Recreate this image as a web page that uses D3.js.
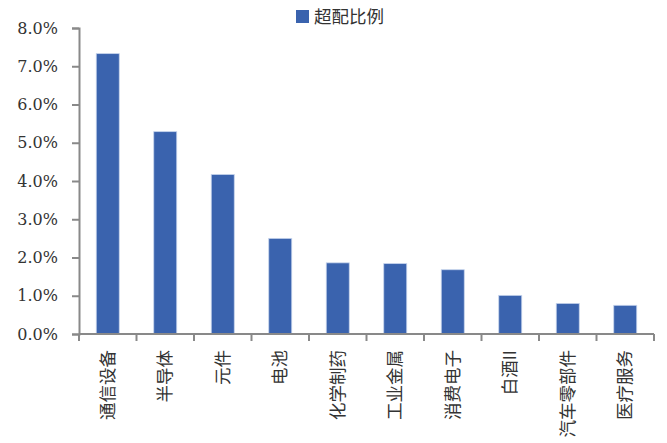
<!DOCTYPE html>
<html>
<head>
<meta charset="utf-8">
<script src="https://cdn.jsdelivr.net/npm/d3@7"></script>
<style>
  body { margin: 0; background: #fff; }
</style>
</head>
<body>
<script>
// data
let categories = ["通信设备", "半导体", "元件", "电池", "化学制药", "工业金属", "消费电子", "白酒II", "汽车零部件", "医疗服务"];
let values = [7.33, 5.29, 4.17, 2.50, 1.86, 1.84, 1.68, 1.01, 0.80, 0.75]; // [%]
let yTicks = [0, 1, 2, 3, 4, 5, 6, 7, 8];
let seriesName = "超配比例";

let width = 667, height = 443;
let margin = { top: 28, right: 13, bottom: 109, left: 79 };

let svg = d3.select("body").append("svg")
    .attr("width", width)
    .attr("height", height);

let xScale = d3.scaleBand()
    .domain(categories)
    .range([margin.left, width - margin.right])
    .paddingInner(0.6)
    .paddingOuter(0.3);

let yScale = d3.scaleLinear()
    .domain([0, 8])
    .range([height - margin.bottom, margin.top]);

// bars
svg.append("g")
    .selectAll("rect")
    .data(values)
    .join("rect")
    .attr("x", (d, i) => xScale(categories[i]))
    .attr("y", d => yScale(d))
    .attr("width", xScale.bandwidth())
    .attr("height", d => yScale(0) - yScale(d))
    .attr("fill", "#3a63ae")
    .attr("stroke", "#c5d3ec")
    .attr("stroke-width", 0.8);

// y axis
let yAxis = d3.axisLeft(yScale)
    .tickValues(yTicks)
    .tickSize(7)
    .tickPadding(14)
    .tickFormat(d => d.toFixed(1) + "%");

let gy = svg.append("g")
    .attr("transform", `translate(${margin.left},0)`)
    .call(yAxis);
gy.select(".domain").attr("stroke", "#898989").attr("stroke-width", 2);
gy.selectAll(".tick line").attr("stroke", "#898989").attr("stroke-width", 2);
gy.selectAll(".tick text")
    .attr("font-family", "DejaVu Serif")
    .attr("font-size", 16)
    .attr("fill", "#333");

// x axis: ticks sit on category boundaries
let step = xScale.step();
let bounds = d3.range(categories.length + 1).map(i => margin.left + i * step);
let gx = svg.append("g");
gx.append("line")
    .attr("x1", margin.left).attr("x2", width - margin.right)
    .attr("y1", yScale(0)).attr("y2", yScale(0))
    .attr("stroke", "#898989").attr("stroke-width", 2);
gx.selectAll("line.tk")
    .data(bounds)
    .join("line")
    .attr("class", "tk")
    .attr("x1", d => d).attr("x2", d => d)
    .attr("y1", yScale(0)).attr("y2", yScale(0) + 7)
    .attr("stroke", "#898989").attr("stroke-width", 2);

gx.selectAll("text")
    .data(categories)
    .join("text")
    .attr("transform", d => `translate(${xScale(d) + xScale.bandwidth() / 2 + 6},${yScale(0) + 16}) rotate(-90)`)
    .attr("text-anchor", "end")
    .attr("font-family", "Noto Sans CJK SC")
    .attr("font-size", 17.5)
    .attr("fill", "#333")
    .text(d => d);

// legend
let lg = svg.append("g").attr("transform", "translate(296,10)");
lg.append("rect")
    .attr("width", 13).attr("height", 13)
    .attr("fill", "#3a63ae");
lg.append("text")
    .attr("x", 18).attr("y", 6.5)
    .attr("dy", "0.35em")
    .attr("font-family", "Noto Sans CJK SC")
    .attr("font-size", 17.5)
    .attr("fill", "#333")
    .text(seriesName);
</script>
</body>
</html>
